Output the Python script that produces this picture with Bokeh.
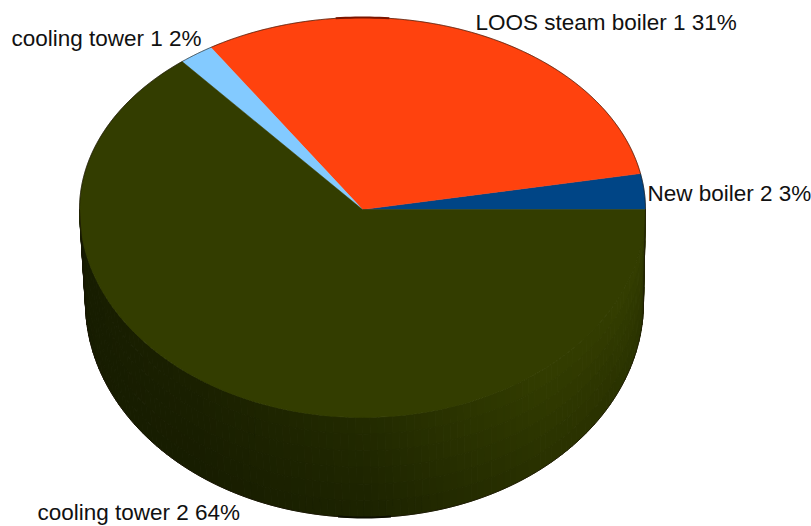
import numpy as np
from bokeh.embed import file_html
from bokeh.models import ColumnDataSource, Range1d
from bokeh.plotting import figure
from bokeh.resources import INLINE
from bokeh.core.properties import value

# Slices in drawing order, counter-clockwise from the right-hand edge
categories = ["New boiler 2", "LOOS steam boiler 1", "cooling tower 1", "cooling tower 2"]
shares = [3, 31, 2, 64]
colors = ["#004586", "#ff420e", "#83caff", "#333d00"]

label_x = [647, 475, 11, 37]
label_y = [193, 22, 38, 512]

# Pie geometry in page pixels
CX, CY = 362, 209
RX, RY_UP, RY_DOWN = 283, 192, 208
BASE_CX, BASE_RX, BASE_CY, BASE_RY = 364, 279, 302, 215


def rim(t):
    ry = np.where(np.sin(t) >= 0, RY_UP, RY_DOWN)
    return CX + RX * np.cos(t), CY - ry * np.sin(t)


def base(t):
    return BASE_CX + BASE_RX * np.cos(t), BASE_CY - BASE_RY * np.sin(t)


def mix(stops, f, dim=1.0):
    xs = [s[0] for s in stops]
    rgb = [np.interp(f, xs, [s[1][i] for s in stops]) * dim for i in range(3)]
    return "#%02x%02x%02x" % tuple(int(round(c)) for c in rgb)


p = figure(width=811, height=526, output_backend="svg", toolbar_location=None,
           x_range=Range1d(0, 811), y_range=Range1d(526, 0),
           min_border=0, outline_line_color=None, background_fill_color="white",
           border_fill_color="white")
p.axis.visible = False
p.grid.visible = False

# Cylinder wall: small quads, shaded left to right and darkening towards the base
shade = [(0.0, (22, 28, 0)), (0.3, (26, 32, 0)), (0.5, (34, 42, 0)), (0.62, (44, 53, 0)),
         (0.72, (50, 60, 0)), (0.95, (51, 61, 0)), (1.0, (46, 56, 0))]
edges = np.linspace(np.pi, 2 * np.pi, 121)
rows = np.linspace(0, 1, 7)
wall_x, wall_y, wall_c = [], [], []
for a, b in zip(edges[:-1], edges[1:]):
    tx, ty = rim(np.array([a, b]))
    bx, by = base(np.array([a, b]))
    f = (a - np.pi) / np.pi
    for v0, v1 in zip(rows[:-1], rows[1:]):
        wall_x.append([tx[0] + (bx[0] - tx[0]) * v0, tx[1] + (bx[1] - tx[1]) * v0,
                       tx[1] + (bx[1] - tx[1]) * v1, tx[0] + (bx[0] - tx[0]) * v1])
        wall_y.append([ty[0] + (by[0] - ty[0]) * v0, ty[1] + (by[1] - ty[1]) * v0,
                       ty[1] + (by[1] - ty[1]) * v1, ty[0] + (by[0] - ty[0]) * v1])
        wall_c.append(mix(shade, f, 1.0 - 0.2 * v0 * min(1.0, f * 2)))
p.patches(wall_x, wall_y, fill_color=wall_c, line_color=wall_c, line_width=1)

# Top face: one polygon per slice, swept from the running share total
fractions = np.cumsum([0] + shares) / sum(shares)
xs, ys = [], []
for start, stop in zip(fractions[:-1], fractions[1:]):
    t = np.linspace(start, stop, max(8, int((stop - start) * 360))) * 2 * np.pi
    ex, ey = rim(t)
    xs.append([CX] + list(ex))
    ys.append([CY] + list(ey))
p.patches(xs, ys, fill_color=colors, line_color=colors, line_width=0.5)

# Dark hairline round the whole silhouette
t = np.linspace(0, np.pi, 180)
ex, ey = rim(t)
bx, by = base(np.linspace(np.pi, 2 * np.pi, 180))
outline_x = list(ex) + list(bx) + [ex[0]]
outline_y = list(ey) + list(by) + [ey[0]]
p.line(outline_x, outline_y, line_color="#1a1208", line_width=1, line_alpha=0.6)

# Short heavier marks where the outline is flattest, top and bottom
t_mid = np.linspace(np.pi / 2 - 0.095, np.pi / 2 + 0.095, 12)
ex, ey = rim(t_mid)
p.line(ex, ey, line_color="#7a1500", line_width=2)
bx, by = base(t_mid + np.pi)
p.line(bx, by, line_color="#0c0e00", line_width=2)

labels = ColumnDataSource(dict(
    x=label_x, y=label_y,
    text=[f"{c} {s}%" for c, s in zip(categories, shares)],
))
p.text("x", "y", "text", source=labels, text_font=value("Liberation Sans"),
       text_font_size="22.5px", text_color="#111111",
       text_align="left", text_baseline="middle")

open("out.html", "w").write(file_html(p, INLINE))
